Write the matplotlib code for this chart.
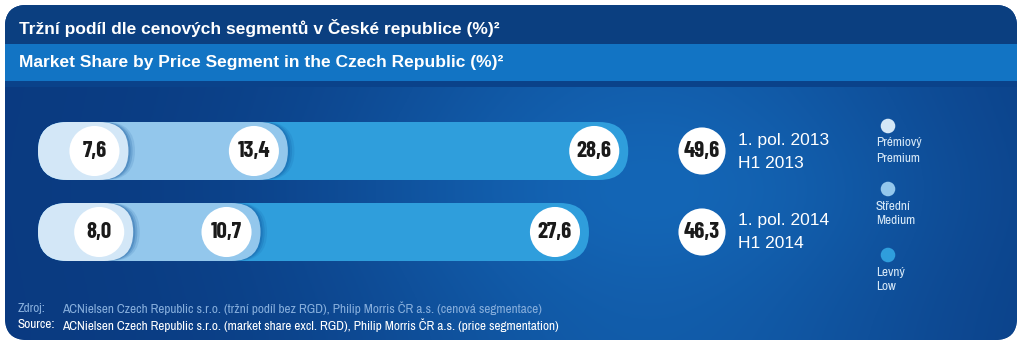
import matplotlib.pyplot as plt
import numpy as np
from matplotlib.patches import FancyBboxPatch, Rectangle
from matplotlib.colors import to_rgb

# data
periods_cz = ['1. pol. 2013', '1. pol. 2014']
periods_en = ['H1 2013', 'H1 2014']
premium = [7.6, 8.0]
medium = [13.4, 10.7]
low = [28.6, 27.6]
segments_cz = ['Prémiový', 'Střední', 'Levný']
segments_en = ['Premium', 'Medium', 'Low']
seg_colors = ['#d3e7f7', '#93c7ec', '#2f9edc']

title_cz = 'Tržní podíl dle cenových segmentů v České republice (%)²'
title_en = 'Market Share by Price Segment in the Czech Republic (%)²'
src_cz = 'ACNielsen Czech Republic s.r.o. (tržní podíl bez RGD), Philip Morris ČR a.s. (cenová segmentace)'
src_en = 'ACNielsen Czech Republic s.r.o. (market share excl. RGD), Philip Morris ČR a.s. (price segmentation)'

NUM_FONT = ['Barlow Condensed', 'Liberation Sans', 'DejaVu Sans']
NARROW = ['Archivo Narrow', 'Liberation Sans', 'DejaVu Sans']
TXT_FONT = ['Liberation Sans', 'DejaVu Sans']


def fmt(v):
    return f'{v:.1f}'.replace('.', ',')


fig = plt.figure(figsize=(10.24, 3.48), dpi=100)
fig.patch.set_facecolor('white')

# background axes in pixel units
bg = fig.add_axes([0, 0, 1, 1])
bg.set_xlim(0, 1024)
bg.set_ylim(348, 0)
bg.axis('off')

panel = FancyBboxPatch((5, 5), 1012, 335, boxstyle='round,pad=0,rounding_size=22',
                       facecolor='#0b3f84', edgecolor='none')
bg.add_patch(panel)

# gradient of the main area
xx, yy = np.meshgrid(np.linspace(0, 1024, 400), np.linspace(0, 348, 140))
t = np.exp(-((xx - 650) / 330) ** 2) * (0.75 + 0.25 * np.exp(-((yy - 190) / 100) ** 2))
dark = np.array(to_rgb('#0a3a80'))
light = np.array(to_rgb('#1466b6'))
img = dark + t[..., None] * (light - dark)
im = bg.imshow(img, extent=(0, 1024, 348, 0), aspect='auto', zorder=1)
im.set_clip_path(panel)

b1 = Rectangle((0, 0), 1024, 44, facecolor='#0b3f80', zorder=2)
b2 = Rectangle((0, 44), 1024, 37, facecolor='#1274c4', zorder=2)
b3 = Rectangle((0, 81), 1024, 6, facecolor='#0a428a', zorder=2)
for b in (b1, b2, b3):
    bg.add_patch(b)
    b.set_clip_path(panel)

bg.text(19, 28, title_cz, color='white', fontsize=12.5, fontweight='bold',
        family=TXT_FONT, va='center', zorder=3)
bg.text(19, 63, title_en, color='white', fontsize=12.5, fontweight='bold',
        family=TXT_FONT, va='center', zorder=3)

# bar axes: same scale on both axes so the pills stay round
S = 11.9  # px per percent point
AX_L, AX_T, AX_W, AX_H = 38, 100, 650, 190
ax = fig.add_axes([AX_L / 1024, 1 - (AX_T + AX_H) / 348, AX_W / 1024, AX_H / 348])
ax.set_xlim(0, AX_W / S)
ax.set_ylim(AX_H / S, 0)
ax.axis('off')
ax.patch.set_alpha(0)

row_px = [151, 232]
h = 58 / S
for i in range(len(premium)):
    y = (row_px[i] - AX_T) / S
    cum = np.cumsum([premium[i], medium[i], low[i]])
    for k in (2, 1, 0):
        w = cum[k]
        if k < 2:
            for d, a in ((0.55, 0.12), (0.35, 0.18), (0.18, 0.25)):
                ax.add_patch(FancyBboxPatch((d, y - h / 2), w, h,
                                            boxstyle=f'round,pad=0,rounding_size={h / 2}',
                                            facecolor='#0d4f96', edgecolor='none',
                                            alpha=a, zorder=2 + (2 - k)))
        ax.add_patch(FancyBboxPatch((0, y - h / 2), w, h,
                                    boxstyle=f'round,pad=0,rounding_size={h / 2}',
                                    facecolor=seg_colors[k], edgecolor='none',
                                    zorder=2.5 + (2 - k)))
    vals = [premium[i], medium[i], low[i]]
    cx = cum - 34 / S
    ax.scatter(cx, [y] * 3, s=1300, color='white', edgecolor='none', zorder=10)
    for x, v in zip(cx, vals):
        ax.text(x, y, fmt(v), ha='center', va='center', fontsize=16.5, fontweight='bold',
                family=NUM_FONT, color='#1a1a1a', zorder=11)

    # total circle and period label
    total = premium[i] + medium[i] + low[i]
    tx = (702 - AX_L) / S
    ax.scatter([tx], [y], s=1150, color='white', edgecolor='none', zorder=10, clip_on=False)
    ax.text(tx, y, fmt(total), ha='center', va='center', fontsize=16.5, fontweight='bold',
            family=NUM_FONT, color='#1a1a1a', zorder=11)
    lx = (738 - AX_L) / S
    ax.text(lx, y - 11 / S, periods_cz[i], ha='left', va='center', fontsize=12.5,
            family=TXT_FONT, color='white', zorder=11)
    ax.text(lx, y + 12 / S, periods_en[i], ha='left', va='center', fontsize=12.5,
            family=TXT_FONT, color='white', zorder=11)

# legend
leg_y = [126, 189, 255]
for k in range(3):
    bg.scatter([888], [leg_y[k]], s=110, color=seg_colors[k], edgecolor='none', zorder=5)
    bg.text(876, leg_y[k] + 17, segments_cz[k], color='#d6e8f7', fontsize=9.5,
            family=NARROW, va='center', ha='left', zorder=5)
    bg.text(876, leg_y[k] + 32, segments_en[k], color='#d6e8f7', fontsize=9.5,
            family=NARROW, va='center', ha='left', zorder=5)

# source
src_kw = dict(fontsize=9.6, family=NARROW, va='center', zorder=5)
bg.text(18, 308, 'Zdroj:', color='#86aedc', **src_kw)
bg.text(62, 308, src_cz, color='#86aedc', **src_kw)
bg.text(18, 325, 'Source:', color='white', **src_kw)
bg.text(62, 325, src_en, color='white', **src_kw)

fig.savefig('out.png', dpi=100)
